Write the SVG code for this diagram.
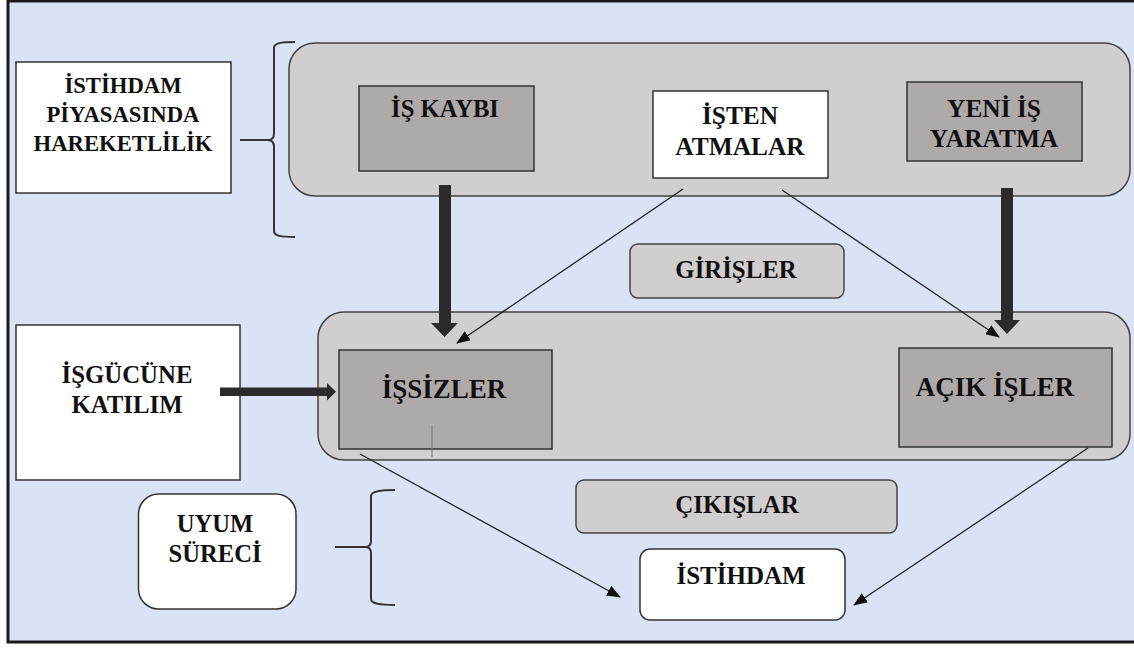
<svg xmlns="http://www.w3.org/2000/svg" width="1134" height="648" viewBox="0 0 1134 648">
<style>
.t{font-weight:bold;fill:#111;text-anchor:middle}
.wb{fill:#ffffff;stroke:#333;stroke-width:1.5}
.db{fill:#aeaaaa;stroke:#333;stroke-width:1.5}
.lg{fill:#d0cece;stroke:#444;stroke-width:1.5}
.thin{stroke:#222;stroke-width:1.3;fill:none}
.brace{stroke:#333;stroke-width:2;fill:none}
.thick{fill:#2b2b2b}
</style>
<defs>
<marker id="ah" markerWidth="14" markerHeight="11" refX="13" refY="5.5" orient="auto" markerUnits="userSpaceOnUse">
<path d="M0,0 L14,5.5 L0,11 Z" fill="#111"/>
</marker>
</defs>
<rect x="8" y="1" width="1140" height="641" fill="#dae3f3" stroke="#1a1a1a" stroke-width="3"/>

<g id="top-group">
<rect x="289" y="43" width="841" height="153" rx="26" ry="26" class="lg"/>
</g>
<g id="mid-group">
<rect x="318" y="312" width="812" height="148" rx="26" ry="26" class="lg"/>
</g>

<g font-family="'Liberation Serif', 'DejaVu Serif', serif">
<g id="istihdam-piyasasinda">
<rect x="16" y="62" width="215" height="131" class="wb"/>
<text class="t" font-size="22.7" x="123" y="93">İSTİHDAM</text>
<text class="t" font-size="22.7" x="123" y="122">PİYASASINDA</text>
<text class="t" font-size="22.7" x="123" y="151">HAREKETLİLİK</text>
</g>
<g id="is-kaybi">
<rect x="359" y="86" width="175" height="85" class="db"/>
<text class="t" font-size="24.6" x="445" y="117">İŞ KAYBI</text>
</g>
<g id="isten-atmalar">
<rect x="653" y="91" width="175" height="87" class="wb"/>
<text class="t" font-size="25.4" x="740" y="124">İŞTEN</text>
<text class="t" font-size="25.4" x="740" y="155">ATMALAR</text>
</g>
<g id="yeni-is">
<rect x="907" y="82" width="175" height="79" class="db"/>
<text class="t" font-size="25.4" x="994" y="117">YENİ İŞ</text>
<text class="t" font-size="25.4" x="994" y="147">YARATMA</text>
</g>
<g id="girisler">
<rect x="630" y="244" width="214" height="54" rx="8" ry="8" class="lg"/>
<text class="t" font-size="24.8" x="736" y="278">GİRİŞLER</text>
</g>
<g id="isgucune">
<rect x="16" y="325" width="224" height="155" class="wb"/>
<text class="t" font-size="24.8" x="127" y="383">İŞGÜCÜNE</text>
<text class="t" font-size="24.8" x="127" y="413">KATILIM</text>
</g>
<g id="issizler">
<rect x="339" y="350" width="213" height="99" class="db"/>
<text class="t" font-size="27" x="444" y="398">İŞSİZLER</text>
<line x1="432" y1="425" x2="432" y2="457" stroke="#777" stroke-width="1"/>
</g>
<g id="acik-isler">
<rect x="899" y="348" width="213" height="99" class="db"/>
<text class="t" font-size="27" x="995" y="396">AÇIK İŞLER</text>
</g>
<g id="cikislar">
<rect x="576" y="480" width="321" height="53" rx="8" ry="8" class="lg"/>
<text class="t" font-size="25" x="737" y="513">ÇIKIŞLAR</text>
</g>
<g id="uyum-sureci">
<rect x="138.5" y="494" width="157.5" height="115" rx="20" ry="20" class="wb"/>
<text class="t" font-size="24.6" x="215" y="532">UYUM</text>
<text class="t" font-size="24.6" x="215" y="562">SÜRECİ</text>
</g>
<g id="istihdam">
<rect x="640" y="549" width="205" height="71" rx="10" ry="10" class="wb"/>
<text class="t" font-size="25" x="741" y="584">İSTİHDAM</text>
</g>
</g>

<g id="braces">
<path class="brace" d="M295,42 C281,42 274,43 274,48 L274,133 C274,138 272,140 268,140 C272,140 274,142 274,147 L274,231 C274,236 281,237 295,237"/>
<line class="brace" x1="240" y1="140" x2="268" y2="140"/>
<path class="brace" d="M395,490 C381,490 371,491 371,496 L371,541 C371,545 369,547 365,547 C369,547 371,549 371,553 L371,599 C371,604 381,605 395,605"/>
<line class="brace" x1="335" y1="547" x2="365" y2="547"/>
</g>

<g id="connectors">
<path class="thick" d="M439,185 L451,185 L451,323 L458,323 L444.5,337 L431,323 L439,323 Z"/>
<path class="thick" d="M1001,188 L1013,188 L1013,320 L1020,320 L1007,334 L994,320 L1001,320 Z"/>
<path class="thick" d="M220,387.5 L327,387.5 L327,383 L336,391.8 L327,400.6 L327,396 L220,396 Z"/>
<line class="thin" x1="683" y1="189" x2="457" y2="343" marker-end="url(#ah)"/>
<line class="thin" x1="782" y1="190" x2="999" y2="337" marker-end="url(#ah)"/>
<line class="thin" x1="360" y1="454" x2="620" y2="597" marker-end="url(#ah)"/>
<line class="thin" x1="1088" y1="448" x2="854" y2="605" marker-end="url(#ah)"/>
</g>
</svg>
